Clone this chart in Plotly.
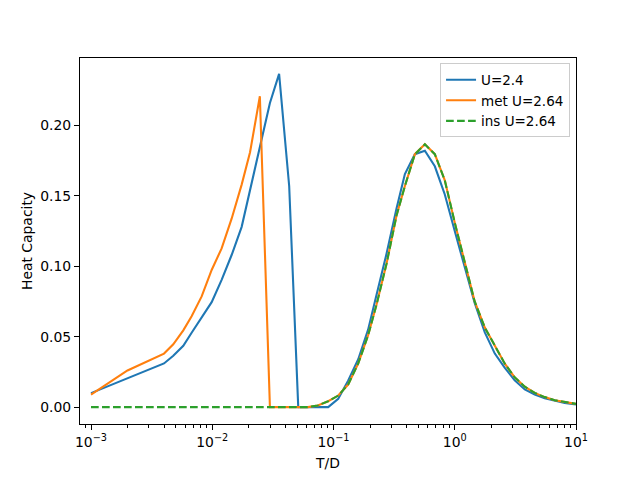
import plotly.graph_objects as go

T = [0.001, 0.002, 0.004, 0.00477, 0.00577, 0.00676, 0.00818, 0.00989, 0.01195, 0.01445,
     0.01748, 0.0205, 0.0247, 0.0299, 0.0356, 0.0431, 0.0512, 0.0615, 0.0743, 0.0904,
     0.1094, 0.132, 0.160, 0.193, 0.2265, 0.274, 0.331, 0.388, 0.469, 0.567,
     0.685, 0.828, 1.0, 1.21, 1.46, 1.77, 2.14, 2.58, 3.12, 3.78,
     4.57, 5.52, 6.67, 8.07, 10.0]

c_u24 = [0.0099, 0.0205, 0.031, 0.0364, 0.0435, 0.0528, 0.0634, 0.0745, 0.0904, 0.108,
         0.128, 0.154, 0.184, 0.216, 0.2366, 0.157, 0.0, 0.0, 0.0, 0.0,
         0.0059, 0.0188, 0.034, 0.055, 0.0798, 0.109, 0.141, 0.1655, 0.1796, 0.182,
         0.171, 0.151, 0.125, 0.099, 0.074, 0.053, 0.038, 0.028, 0.019, 0.0125,
         0.009, 0.0063, 0.0045, 0.003, 0.0019]

c_met = [0.0089, 0.026, 0.038, 0.0446, 0.0545, 0.0645, 0.0786, 0.0974, 0.1127, 0.1338,
         0.158, 0.181, 0.2207, 0.0, 0.0, 0.0, 0.0, 0.0, 0.0012, 0.0042,
         0.0082, 0.016, 0.031, 0.051, 0.0728, 0.102, 0.136, 0.157, 0.1796, 0.1866,
         0.1796, 0.161, 0.131, 0.103, 0.075, 0.0565, 0.0436, 0.031, 0.0211, 0.0145,
         0.0101, 0.0071, 0.0049, 0.0035, 0.0023]

c_ins = [0.0, 0.0, 0.0, 0.0, 0.0, 0.0, 0.0, 0.0, 0.0, 0.0,
         0.0, 0.0, 0.0, 0.0, 0.0, 0.0, 0.0, 0.0, 0.0012, 0.0042,
         0.0082, 0.016, 0.031, 0.051, 0.0728, 0.102, 0.136, 0.157, 0.1796, 0.1866,
         0.1796, 0.161, 0.131, 0.103, 0.075, 0.0565, 0.0436, 0.031, 0.0211, 0.0145,
         0.0101, 0.0071, 0.0049, 0.0035, 0.0023]

x_tickvals = [0.001, 0.01, 0.1, 1, 10]
x_ticktext = ["10<sup>\u22123</sup>", "10<sup>\u22122</sup>", "10<sup>\u22121</sup>",
              "10<sup>0</sup>", "10<sup>1</sup>"]
y_tickvals = [0.0, 0.05, 0.10, 0.15, 0.20]

minor_vals = [m * d for d in [0.0001, 0.001, 0.01, 0.1, 1] for m in range(2, 10)]

font = dict(family="DejaVu Sans", size=13.9, color="black")

fig = go.Figure()
fig.add_trace(go.Scatter(x=T, y=c_u24, mode="lines", name="U=2.4",
                         line=dict(color="#1f77b4", width=2.08)))
fig.add_trace(go.Scatter(x=T, y=c_met, mode="lines", name="met U=2.64",
                         line=dict(color="#ff7f0e", width=2.08)))
fig.add_trace(go.Scatter(x=T, y=c_ins, mode="lines", name="ins U=2.64",
                         line=dict(color="#2ca02c", width=2.08, dash="7.7px,3.3px")))

fig.update_layout(
    width=640, height=480,
    margin=dict(l=80, r=64, t=58, b=53),
    paper_bgcolor="white", plot_bgcolor="white",
    font=font,
    showlegend=True,
    legend=dict(x=0.988, y=0.985, xanchor="right", yanchor="top",
                bordercolor="#cccccc", borderwidth=1, bgcolor="rgba(255,255,255,0.8)",
                font=dict(family="DejaVu Sans", size=13.5, color="black"),
                itemwidth=30, tracegroupgap=0),
)
fig.update_xaxes(type="log", range=[-3.0907, 1.0],
                 tickvals=x_tickvals, ticktext=x_ticktext,
                 showline=True, linecolor="black", linewidth=1, mirror=True,
                 ticks="outside", ticklen=5, tickwidth=1, tickcolor="black",
                 showgrid=False, zeroline=False,
                 minor=dict(tickvals=minor_vals, ticks="outside", ticklen=3,
                            tickwidth=0.8, tickcolor="black", showgrid=False),
                 title=dict(text="T/D", font=font, standoff=9))
fig.update_yaxes(range=[-0.012, 0.2479],
                 tickvals=y_tickvals, tickformat=".2f",
                 showline=True, linecolor="black", linewidth=1, mirror=True,
                 ticks="outside", ticklen=5, tickwidth=1, tickcolor="black",
                 showgrid=False, zeroline=False,
                 title=dict(text="Heat Capacity", font=font, standoff=4))

fig.write_html("out.html", config={"displayModeBar": False},
               post_script="document.body.style.margin='0';")
